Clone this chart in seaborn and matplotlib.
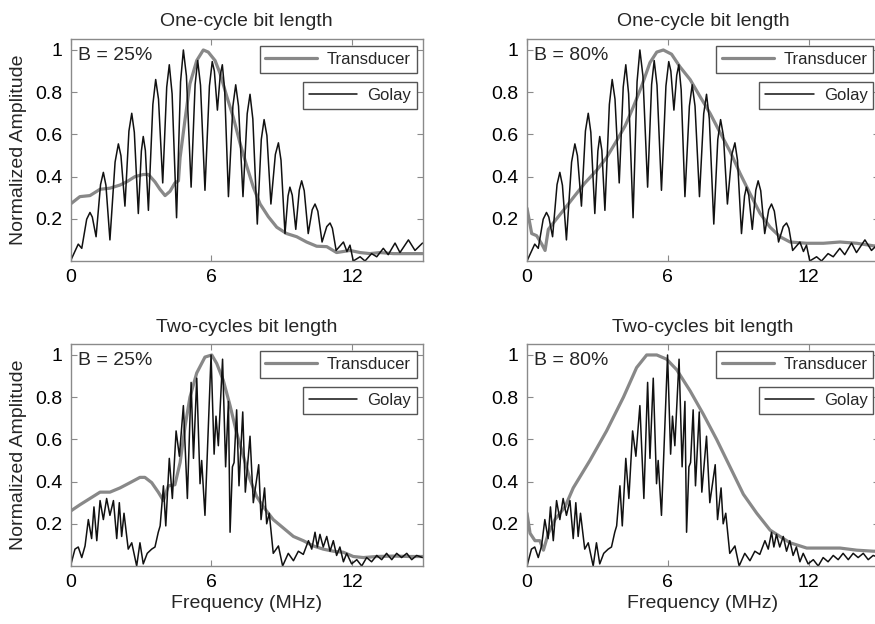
import matplotlib
matplotlib.use("Agg")
import matplotlib.pyplot as plt
from matplotlib.lines import Line2D
import seaborn as sns
import pandas as pd

# ---------------- data ----------------
golay_one_f = [0, 0.33, 0.48, 0.69, 0.83, 0.93, 1.09, 1.28, 1.40, 1.51,
               1.68, 1.90, 2.04, 2.15, 2.32, 2.49, 2.61, 2.72, 2.89, 3.02,
               3.10, 3.19, 3.32, 3.51, 3.63, 3.75, 3.93, 4.10, 4.21, 4.33,
               4.52, 4.69, 4.81, 4.94, 5.14, 5.31, 5.42, 5.54, 5.73, 5.92,
               6.04, 6.13, 6.26, 6.38, 6.47, 6.57, 6.73, 6.92, 7.04, 7.16,
               7.35, 7.53, 7.65, 7.77, 7.96, 8.13, 8.25, 8.37, 8.54, 8.73,
               8.86, 8.97, 9.14, 9.27, 9.35, 9.45, 9.60, 9.75, 9.85, 9.96,
               10.13, 10.30, 10.42, 10.54, 10.72, 10.92, 11.06, 11.16, 11.32, 11.63,
               11.78, 11.91, 12.05, 12.34, 12.55, 12.83, 13.05, 13.33, 13.54, 13.83,
               14.04, 14.40, 14.68, 15.0]
golay_one_a = [0.0, 0.08, 0.06, 0.198, 0.23, 0.208, 0.115, 0.362, 0.42, 0.359,
               0.10, 0.469, 0.555, 0.499, 0.26, 0.616, 0.70, 0.61, 0.225, 0.521,
               0.59, 0.524, 0.24, 0.742, 0.86, 0.767, 0.37, 0.824, 0.93, 0.792,
               0.205, 0.849, 1.0, 0.877, 0.35, 0.836, 0.95, 0.833, 0.335, 0.829,
               0.945, 0.90, 0.715, 0.88, 0.93, 0.811, 0.305, 0.734, 0.835, 0.734,
               0.305, 0.698, 0.79, 0.673, 0.175, 0.576, 0.67, 0.594, 0.27, 0.505,
               0.56, 0.478, 0.13, 0.308, 0.35, 0.312, 0.15, 0.336, 0.38, 0.333,
               0.13, 0.243, 0.27, 0.236, 0.09, 0.163, 0.18, 0.155, 0.05, 0.09,
               0.045, 0.075, 0.0, 0.02, 0.0, 0.035, 0.02, 0.06, 0.03, 0.085,
               0.04, 0.10, 0.05, 0.085]

golay_two_f = [0.0, 0.19, 0.33, 0.48, 0.62, 0.76, 0.90, 1.00, 1.12, 1.26,
               1.40, 1.54, 1.68, 1.83, 1.97, 2.08, 2.18, 2.28, 2.46, 2.61,
               2.82, 2.96, 3.10, 3.27, 3.46, 3.60, 3.74, 3.82, 3.96, 4.06,
               4.21, 4.34, 4.50, 4.64, 4.81, 4.98, 5.14, 5.24, 5.38, 5.52,
               5.59, 5.73, 5.99, 6.12, 6.20, 6.30, 6.48, 6.61, 6.73, 6.80,
               6.90, 6.97, 7.08, 7.18, 7.34, 7.45, 7.65, 7.79, 8.02, 8.12,
               8.27, 8.36, 8.47, 8.64, 8.86, 9.04, 9.28, 9.50, 9.71, 9.92,
               10.14, 10.28, 10.42, 10.52, 10.63, 10.77, 10.92, 11.06, 11.20, 11.34,
               11.48, 11.63, 11.77, 11.98, 12.20, 12.41, 12.62, 12.83, 13.05, 13.26,
               13.47, 13.69, 13.90, 14.11, 14.33, 14.54, 14.75, 15.0]
golay_two_a = [0.0, 0.08, 0.09, 0.04, 0.095, 0.22, 0.13, 0.28, 0.12, 0.31,
               0.22, 0.32, 0.24, 0.31, 0.13, 0.30, 0.14, 0.25, 0.08, 0.11,
               0.0, 0.11, 0.01, 0.06, 0.08, 0.09, 0.16, 0.19, 0.38, 0.19,
               0.51, 0.32, 0.64, 0.52, 0.76, 0.32, 0.87, 0.51, 0.89, 0.39,
               0.50, 0.24, 1.0, 0.53, 0.71, 0.57, 0.98, 0.47, 0.78, 0.16,
               0.47, 0.49, 0.74, 0.38, 0.73, 0.35, 0.615, 0.30, 0.48, 0.22,
               0.37, 0.20, 0.25, 0.06, 0.095, 0.0, 0.06, 0.025, 0.07, 0.055,
               0.12, 0.08, 0.16, 0.09, 0.15, 0.09, 0.14, 0.07, 0.12, 0.05,
               0.09, 0.02, 0.06, 0.01, 0.03, 0.0, 0.04, 0.02, 0.05, 0.03,
               0.06, 0.03, 0.06, 0.04, 0.06, 0.03, 0.05, 0.04]

trans_one_b25_f = [0, 0.40, 0.83, 1.26, 1.68, 2.11, 2.39, 2.75, 3.10, 3.32, 3.60, 3.81, 4.03, 4.24, 4.45,
                   4.60, 4.67, 4.88, 5.09, 5.38, 5.66, 5.87, 6.16, 6.37, 6.66, 6.94, 7.22, 7.51, 7.79, 8.08,
                   8.43, 8.79, 9.21, 9.64, 10.06, 10.49, 10.92, 11.34, 11.91, 12.34, 12.76, 13.19, 13.76,
                   14.47, 15.0]
trans_one_b25_a = [0.27, 0.305, 0.31, 0.34, 0.345, 0.36, 0.375, 0.40, 0.41, 0.41, 0.375, 0.34, 0.31, 0.33, 0.37,
                   0.38, 0.49, 0.67, 0.84, 0.95, 1.0, 0.99, 0.95, 0.89, 0.78, 0.68, 0.56, 0.45, 0.35, 0.27,
                   0.21, 0.16, 0.13, 0.115, 0.09, 0.07, 0.068, 0.04, 0.05, 0.04, 0.035, 0.04, 0.035,
                   0.035, 0.035]

trans_one_b80_f = [0, 0.20, 0.41, 0.63, 0.77, 0.91, 1.19, 1.55, 1.97, 2.47, 2.97, 3.39, 3.82, 4.18, 4.53,
                   4.89, 5.24, 5.53, 5.81, 6.16, 6.52, 6.95, 7.37, 7.80, 8.22, 8.65, 9.08, 9.50, 9.93, 10.36,
                   10.78, 11.21, 11.92, 12.63, 13.34, 14.05, 14.76, 15.0]
trans_one_b80_a = [0.25, 0.13, 0.12, 0.08, 0.05, 0.15, 0.19, 0.24, 0.30, 0.37, 0.43, 0.49, 0.57, 0.64, 0.73,
                   0.83, 0.94, 0.99, 1.0, 0.98, 0.92, 0.86, 0.78, 0.70, 0.61, 0.52, 0.415, 0.32, 0.226, 0.16,
                   0.115, 0.09, 0.084, 0.084, 0.09, 0.084, 0.072, 0.07]

trans_two_b25_f = [0, 0.40, 0.83, 1.26, 1.68, 2.11, 2.54, 2.96, 3.17, 3.46, 3.74, 3.96, 4.17, 4.45, 4.67,
                   4.88, 5.09, 5.38, 5.73, 6.02, 6.23, 6.51, 6.80, 7.08, 7.37, 7.65, 7.93, 8.22, 8.64, 9.07,
                   9.50, 9.92, 10.35, 10.77, 11.20, 11.63, 12.05, 12.48, 13.05, 13.76, 14.47, 15.0]
trans_two_b25_a = [0.26, 0.29, 0.32, 0.35, 0.35, 0.37, 0.395, 0.42, 0.42, 0.395, 0.35, 0.31, 0.38, 0.385, 0.49,
                   0.66, 0.80, 0.915, 0.99, 1.0, 0.96, 0.88, 0.76, 0.63, 0.52, 0.41, 0.33, 0.28, 0.22, 0.18,
                   0.14, 0.12, 0.095, 0.08, 0.07, 0.065, 0.045, 0.04, 0.045, 0.047, 0.045, 0.045]

trans_two_b80_f = [0, 0.13, 0.34, 0.55, 0.70, 0.91, 1.19, 1.62, 1.97, 2.68, 3.39, 4.11, 4.67, 5.10, 5.53,
                   5.95, 6.38, 6.95, 7.51, 8.08, 8.65, 9.22, 9.79, 10.36, 10.78, 11.21, 11.92, 12.63, 13.34,
                   14.05, 14.76, 15.0]
trans_two_b80_a = [0.25, 0.155, 0.12, 0.12, 0.075, 0.155, 0.22, 0.28, 0.37, 0.50, 0.64, 0.80, 0.94, 1.0, 1.0,
                   0.98, 0.93, 0.83, 0.72, 0.60, 0.47, 0.34, 0.25, 0.17, 0.14, 0.11, 0.085, 0.085, 0.085,
                   0.075, 0.07, 0.07]

panel_titles = ["One-cycle bit length", "One-cycle bit length",
                "Two-cycles bit length", "Two-cycles bit length"]
panel_notes = ["B = 25%", "B = 80%", "B = 25%", "B = 80%"]
x_ticks = [0, 6, 12]
y_ticks = [0.2, 0.4, 0.6, 0.8, 1.0]
y_ticklabels = ["0.2", "0.4", "0.6", "0.8", "1"]

# ---------------- styling ----------------
sns.set_theme(style="white")
plt.rcParams["font.family"] = ["Liberation Sans", "DejaVu Sans"]

GRAY = "#888888"
BLACK = "#111111"
SPINE = "#8a8a8a"

fig = plt.figure(figsize=(8.75, 6.24), dpi=100)
W, H = 875.0, 624.0
col_left = [70.5, 527.0]
row_bottom = [261.0, 566.0]
ax_w, ax_h = 352.0, 222.0

panels = [
    (0, 0, trans_one_b25_f, trans_one_b25_a, golay_one_f, golay_one_a),
    (0, 1, trans_one_b80_f, trans_one_b80_a, golay_one_f, golay_one_a),
    (1, 0, trans_two_b25_f, trans_two_b25_a, golay_two_f, golay_two_a),
    (1, 1, trans_two_b80_f, trans_two_b80_a, golay_two_f, golay_two_a),
]

for i, (r, c, tf, ta, gf, ga) in enumerate(panels):
    rect = [col_left[c] / W, (H - row_bottom[r]) / H, ax_w / W, ax_h / H]
    ax = fig.add_axes(rect)
    df_t = pd.DataFrame({"freq": tf, "amp": ta})
    df_g = pd.DataFrame({"freq": gf, "amp": ga})
    sns.lineplot(data=df_t, x="freq", y="amp", ax=ax, color=GRAY, lw=2.3,
                 sort=False, estimator=None, legend=False,
                 solid_joinstyle="round", solid_capstyle="round")
    sns.lineplot(data=df_g, x="freq", y="amp", ax=ax, color=BLACK, lw=1.1,
                 sort=False, estimator=None, legend=False,
                 solid_joinstyle="round")
    ax.set_xlim(0, 15)
    ax.set_ylim(0, 1.052)
    ax.set_xticks(x_ticks)
    ax.set_xticklabels([str(t) for t in x_ticks])
    ax.set_yticks(y_ticks)
    ax.set_yticklabels(y_ticklabels)
    ax.tick_params(direction="in", length=4, width=0.8, color=SPINE,
                   top=True, right=True, bottom=True, left=True,
                   labelsize=14, labelcolor="black")
    ax.tick_params(axis="x", pad=6)
    ax.tick_params(axis="y", pad=6)
    for sp in ax.spines.values():
        sp.set_color(SPINE)
        sp.set_linewidth(1.0)
    ax.set_title(panel_titles[i], fontsize=14, pad=9)
    ax.set_xlabel("Frequency (MHz)" if r == 1 else "", fontsize=14, labelpad=3)
    ax.set_ylabel("Normalized Amplitude" if c == 0 else "", fontsize=14, labelpad=6)
    ax.text(0.021, 0.925, panel_notes[i], transform=ax.transAxes, fontsize=14,
            ha="left", va="center")

    leg1 = ax.legend(handles=[Line2D([], [], color=GRAY, lw=2.3)], labels=["Transducer"],
                     loc="upper right", bbox_to_anchor=(0.984, 0.968), borderaxespad=0,
                     fancybox=False, edgecolor="#555555", framealpha=1, fontsize=12,
                     handlelength=3.1, handletextpad=0.6, borderpad=0.35)
    leg1.get_frame().set_linewidth(1.0)
    ax.add_artist(leg1)
    leg2 = ax.legend(handles=[Line2D([], [], color=BLACK, lw=1.1)], labels=["Golay"],
                     loc="upper right", bbox_to_anchor=(0.984, 0.806), borderaxespad=0,
                     fancybox=False, edgecolor="#555555", framealpha=1, fontsize=12,
                     handlelength=2.9, handletextpad=0.6, borderpad=0.35)
    leg2.get_frame().set_linewidth(1.0)

fig.savefig("out.png", dpi=100)
